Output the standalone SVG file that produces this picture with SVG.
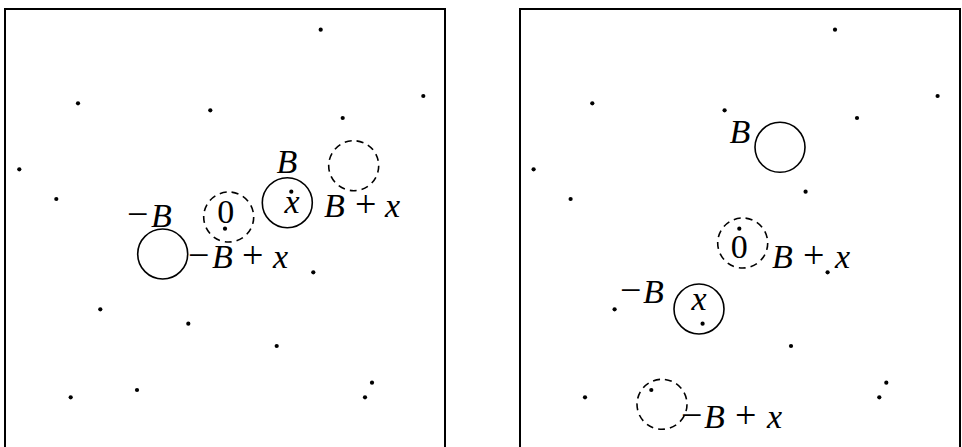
<svg xmlns="http://www.w3.org/2000/svg" width="962" height="447" viewBox="0 0 962 447">
<style>
.frame{fill:none;stroke:#000;stroke-width:2}
.c{fill:none;stroke:#000;stroke-width:1.6}
.d{fill:none;stroke:#000;stroke-width:1.6;stroke-dasharray:7 5}
.dot{fill:#000}
text{font-family:"Liberation Serif","Times New Roman",serif;font-size:34px;fill:#000}
.i{font-style:italic}
.o{font-size:38px}
</style>
<defs>
<g id="dots">
<circle cx="320.7" cy="29.7" r="2.1"/>
<circle cx="423.3" cy="96" r="2.1"/>
<circle cx="78" cy="103.3" r="2.1"/>
<circle cx="210.3" cy="110.3" r="2.1"/>
<circle cx="342.7" cy="118" r="2.1"/>
<circle cx="19.3" cy="169.3" r="2.1"/>
<circle cx="56.3" cy="199" r="2.1"/>
<circle cx="291.3" cy="191.7" r="2.1"/>
<circle cx="225" cy="228.7" r="2.1"/>
<circle cx="313.3" cy="272.3" r="2.1"/>
<circle cx="100.3" cy="309.3" r="2.1"/>
<circle cx="188.3" cy="323.7" r="2.1"/>
<circle cx="276.7" cy="346" r="2.1"/>
<circle cx="70.7" cy="397.3" r="2.1"/>
<circle cx="137" cy="390" r="2.1"/>
<circle cx="372" cy="382.7" r="2.1"/>
<circle cx="365" cy="397.3" r="2.1"/>
</g>
</defs>
<g id="left-panel">
<rect class="frame" x="5" y="9" width="440" height="450"/>
<use href="#dots" class="dot"/>
<g id="L-minusB"><circle class="c" cx="162.7" cy="254" r="25"/><text y="226.7"><tspan class="o" x="127">−</tspan><tspan class="i" x="151">B</tspan></text></g>
<g id="L-zero"><circle class="d" cx="228.7" cy="217" r="25"/><text x="225.7" y="222.7" text-anchor="middle">0</text></g>
<g id="L-x"><circle class="c" cx="287.3" cy="202.7" r="25"/><text class="i" x="292" y="213" text-anchor="middle">x</text><text class="i" x="287" y="172.5" text-anchor="middle">B</text></g>
<g id="L-Bx"><circle class="d" cx="353.7" cy="165.7" r="25"/><text y="216.7"><tspan class="i" x="324">B</tspan><tspan class="o" x="355">+</tspan><tspan class="i" x="385">x</tspan></text></g>
<g id="L-mBx"><text y="267.5"><tspan class="o" x="188">−</tspan><tspan class="i" x="212">B</tspan><tspan class="o" x="242">+</tspan><tspan class="i" x="273">x</tspan></text></g>
</g>
<g id="right-panel">
<rect class="frame" x="520" y="9" width="440" height="450"/>
<use href="#dots" class="dot" x="514.3"/>
<g id="R-B"><circle class="c" cx="780" cy="147.3" r="25"/><text class="i" x="740" y="142.7" text-anchor="middle">B</text></g>
<g id="R-zero"><circle class="d" cx="742.7" cy="243" r="25"/><text x="739.3" y="258.3" text-anchor="middle">0</text><text y="267.7"><tspan class="i" x="772">B</tspan><tspan class="o" x="803">+</tspan><tspan class="i" x="835">x</tspan></text></g>
<g id="R-x"><circle class="c" cx="699" cy="309" r="25"/><text class="i" x="699" y="310" text-anchor="middle">x</text><text y="303.3"><tspan class="o" x="620">−</tspan><tspan class="i" x="643">B</tspan></text></g>
<g id="R-mBx"><circle class="d" cx="662" cy="404.3" r="25"/><text y="427.7"><tspan class="o" x="681">−</tspan><tspan class="i" x="704">B</tspan><tspan class="o" x="735">+</tspan><tspan class="i" x="767">x</tspan></text></g>
</g>
</svg>
